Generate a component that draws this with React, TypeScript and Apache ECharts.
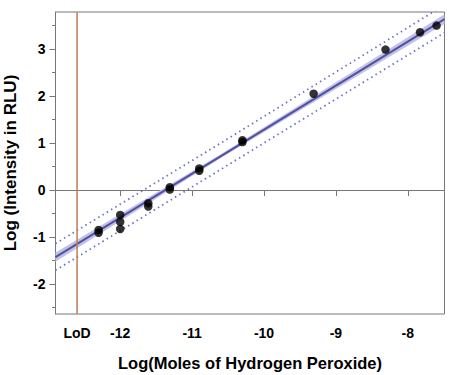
import React, { useEffect, useRef } from "react";
import * as echarts from "echarts";

// Observations: [log moles H2O2, log intensity RLU]
const observations: [number, number][] = [
  [-12.3, -0.85], [-12.3, -0.91],
  [-12.0, -0.53], [-12.0, -0.68], [-12.0, -0.83],
  [-11.61, -0.28], [-11.61, -0.35],
  [-11.31, 0.06], [-11.31, 0.01],
  [-10.9, 0.41], [-10.9, 0.46],
  [-10.3, 1.02], [-10.3, 1.06],
  [-9.31, 2.05],
  [-8.31, 2.99],
  [-7.83, 3.36],
  [-7.6, 3.5],
];

const fitX = [-12.9, -10.6, -7.49];
const fitY = [-1.43, 0.72, 3.64];
const ciLower = [-1.53, 0.68, 3.54];
const ciUpper = [-1.33, 0.76, 3.74];
const piLower = [-1.71, 0.44, 3.35];
const piUpper = [-1.14, 1.0, 3.94];

const LOD = -12.6;
const xMin = -12.9;
const xMax = -7.49;
const yMin = -2.64;
const yMax = 3.79;
const xTickValues = [-12, -11, -10, -9, -8];
const xLabelValues = [LOD, -12, -11, -10, -9, -8];
const yTickValues = [-2, -1, 0, 1, 2, 3];
const yMinorTickValues = [-2.5, -1.5, -0.5, 0.5, 1.5, 2.5, 3.5];

const FONT = "Liberation Sans, Arial, sans-serif";

export default function App() {
  const ref = useRef<HTMLDivElement>(null);
  useEffect(() => {
    document.body.style.margin = "0";
    const chart = echarts.init(ref.current!, null, { renderer: "svg" });
    const pair = (ys: number[]) => fitX.map((x, i) => [x, ys[i]]);
    const axisText = { fontFamily: FONT, fontWeight: "bold" as const, fontSize: 14, color: "#000" };
    chart.setOption({
      animation: false,
      grid: {
        left: 55.5, right: 4.5, top: 12, bottom: 61,
        show: true, borderColor: "#777", borderWidth: 1,
        containLabel: false, outerBoundsMode: "none",
      },
      xAxis: {
        type: "value",
        min: xMin,
        max: xMax,
        name: "Log(Moles of Hydrogen Peroxide)",
        nameLocation: "middle",
        nameGap: 40,
        nameTextStyle: { ...axisText, fontSize: 16.5 },
        axisLine: { lineStyle: { color: "#777" } },
        axisTick: { show: true, length: 6, lineStyle: { color: "#777" }, customValues: xTickValues },
        axisLabel: {
          ...axisText,
          margin: 12,
          customValues: xLabelValues,
          formatter: (v: number) => (Math.abs(v - LOD) < 1e-6 ? "LoD" : String(v)),
        },
        splitLine: { show: false },
      },
      yAxis: [
        {
          type: "value",
          min: yMin,
          max: yMax,
          name: "Log (Intensity in RLU)",
          nameLocation: "middle",
          nameGap: 37,
          nameTextStyle: { ...axisText, fontSize: 17 },
          axisLine: { show: true, lineStyle: { color: "#777" } },
          axisTick: { show: true, length: 6, lineStyle: { color: "#777" }, customValues: yTickValues },
          axisLabel: { ...axisText, margin: 10, customValues: yTickValues },
          splitLine: { show: false },
        },
        {
          type: "value",
          min: yMin,
          max: yMax,
          position: "left",
          axisLine: { show: false },
          axisTick: { show: true, length: 3.5, lineStyle: { color: "#777" }, customValues: yMinorTickValues },
          axisLabel: { show: false },
          splitLine: { show: false },
        },
      ],
      series: [
        {
          type: "custom",
          silent: true,
          clip: true,
          data: [0],
          renderItem: (params: any, api: any) => {
            const upper = fitX.map((x, i) => api.coord([x, ciUpper[i]]));
            const lower = fitX.map((x, i) => api.coord([x, ciLower[i]])).reverse();
            return {
              type: "polygon",
              shape: { points: upper.concat(lower) },
              style: { fill: "#c2c2e4" },
            };
          },
          z: 1,
        },
        {
          type: "line",
          data: pair(fitY),
          symbol: "none",
          lineStyle: { color: "#5050a6", width: 2 },
          z: 2,
        },
        {
          type: "line",
          data: pair(piUpper),
          symbol: "none",
          lineStyle: { color: "#7070c8", width: 1.8, type: [1.5, 3.5] },
        },
        {
          type: "line",
          data: pair(piLower),
          symbol: "none",
          lineStyle: { color: "#7070c8", width: 1.8, type: [1.5, 3.5] },
        },
        {
          type: "line",
          data: [[LOD, yMin], [LOD, yMax]],
          symbol: "none",
          lineStyle: { color: "#c07a5c", width: 1.5 },
        },
        {
          type: "scatter",
          data: observations,
          symbolSize: 8.5,
          itemStyle: { color: "#000" },
          z: 5,
        },
      ],
    });
    return () => chart.dispose();
  }, []);
  return <div ref={ref} style={{ width: 449, height: 375 }} />;
}
